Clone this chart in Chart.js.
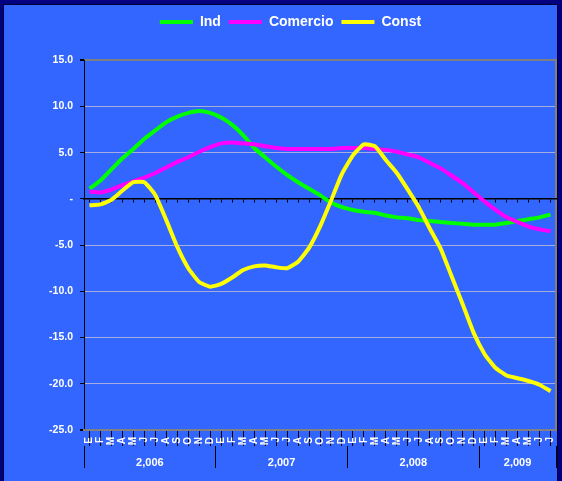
<!DOCTYPE html>
<html>
<head>
<meta charset="utf-8">
<script src="https://cdn.jsdelivr.net/npm/chart.js@4.4.0/dist/chart.umd.min.js"></script>
<style>
  body { margin: 0; background: #000080; }
  #wrap { width: 562px; height: 481px; position: relative; }
</style>
</head>
<body>
<div id="wrap"><canvas id="chart"></canvas></div>
<script>
const monthLetters = ['E', 'F', 'M', 'A', 'M', 'J', 'J', 'A', 'S', 'O', 'N', 'D'];
const years = ['2,006', '2,007', '2,008', '2,009'];
const monthsPerYear = [12, 12, 12, 7];

const ind = [1.1, 2.0, 3.2, 4.4, 5.4, 6.5, 7.4, 8.3, 8.9, 9.3, 9.5, 9.3,
             8.8, 8.0, 6.9, 5.5, 4.5, 3.5, 2.6, 1.8, 1.1, 0.4, -0.4, -0.9,
             -1.2, -1.4, -1.5, -1.8, -2.0, -2.1, -2.3, -2.4, -2.5, -2.6, -2.7, -2.8,
             -2.8, -2.8, -2.6, -2.4, -2.2, -2.0, -1.7];
const comercio = [0.8, 0.7, 1.0, 1.5, 1.9, 2.3, 2.8, 3.4, 4.0, 4.5, 5.1, 5.6,
                  6.0, 6.1, 6.0, 5.9, 5.7, 5.5, 5.4, 5.4, 5.4, 5.4, 5.4, 5.5,
                  5.5, 5.5, 5.4, 5.3, 5.1, 4.8, 4.5, 3.9, 3.3, 2.5, 1.7, 0.7,
                  -0.3, -1.2, -2.0, -2.5, -3.0, -3.3, -3.5];
const constr = [-0.7, -0.6, -0.1, 0.9, 1.8, 1.8, 0.4, -2.3, -5.2, -7.5, -9.0, -9.5,
                -9.2, -8.5, -7.7, -7.3, -7.2, -7.4, -7.5, -6.8, -5.3, -3.0, -0.2, 2.7,
                4.7, 5.9, 5.7, 4.2, 2.8, 1.0, -0.9, -3.2, -5.4, -8.4, -11.4, -14.5,
                -16.8, -18.3, -19.1, -19.4, -19.7, -20.1, -20.8];

const yMin = -25, yMax = 15, yStep = 5;

// month labels for every year
const labels = [];
monthsPerYear.forEach(n => labels.push(...monthLetters.slice(0, n)));

// year boundaries and centres on a 0..N linear scale
const yearBounds = [0];
monthsPerYear.forEach(n => yearBounds.push(yearBounds[yearBounds.length - 1] + n));
const yearMid = years.map((y, i) => (yearBounds[i] + yearBounds[i + 1]) / 2);
const totalMonths = yearBounds[yearBounds.length - 1];

const font = 'Arial, "Liberation Sans", sans-serif';

const bgPlugin = {
    id: 'bg',
    beforeDraw(chart) {
        const { ctx, width, height } = chart;
        ctx.save();
        ctx.fillStyle = '#000080';
        ctx.fillRect(0, 0, width, height);
        ctx.fillStyle = '#3366FF';
        ctx.fillRect(4, 5, width - 9, height - 5);
        ctx.strokeStyle = '#000030';
        ctx.lineWidth = 1;
        ctx.strokeRect(3.5, 4.5, width - 8, height - 4);
        ctx.restore();
    }
};

function line(label, data, color) {
    return {
        label: label,
        data: data,
        borderColor: color,
        backgroundColor: color,
        borderWidth: 4,
        pointRadius: 0,
        tension: 0.15,
        xAxisID: 'x',
        yAxisID: 'y'
    };
}

const ctx = document.getElementById('chart').getContext('2d');
new Chart(ctx, {
    type: 'line',
    data: {
        labels: labels,
        // drawn last-to-first so Const ends up on top; legend is reversed
        datasets: [
            line('Const', constr, '#FFFF00'),
            line('Comercio', comercio, '#FF00FF'),
            line('Ind', ind, '#00FF00')
        ]
    },
    options: {
        responsive: true,
        maintainAspectRatio: false,
        animation: false,
        layout: { padding: { top: 7, left: 25, right: 6, bottom: 0 } },
        plugins: {
            tooltip: { enabled: false },
            legend: {
                position: 'top',
                reverse: true,
                labels: {
                    usePointStyle: true,
                    pointStyle: 'line',
                    pointStyleWidth: 33,
                    color: '#FFFFFF',
                    padding: 8,
                    font: { family: font, size: 14, weight: 'bold' }
                }
            },
            // empty title used as a spacer under the legend
            title: {
                display: true,
                text: ' ',
                weight: 500,
                font: { size: 1 },
                padding: { top: 0, bottom: 20 }
            }
        },
        scales: {
            y: {
                min: yMin,
                max: yMax,
                afterFit: s => { s.width = 59; },
                ticks: {
                    stepSize: yStep,
                    color: '#FFFFFF',
                    padding: 7,
                    font: { family: font, size: 10.5, weight: 'bold' },
                    callback: v => v === 0 ? '-' : v.toFixed(1)
                },
                grid: {
                    color: c => (c.tick.value === yMin || c.tick.value === yMax) ? '#808080'
                        : (c.tick.value === 0 ? '#000000' : '#A4ACE0'),
                    lineWidth: c => (c.tick.value === yMin || c.tick.value === yMax) ? 2 : 1,
                    tickColor: '#000000',
                    tickLength: 4
                },
                border: { color: '#000000', width: 1 }
            },
            y2: {
                type: 'linear',
                position: 'right',
                min: yMin,
                max: yMax,
                afterFit: s => { s.width = 0; },
                ticks: { display: false },
                grid: { drawOnChartArea: false, drawTicks: false },
                border: { color: '#808080', width: 2 }
            },
            x: {
                type: 'category',
                position: 'bottom',
                offset: true,
                weight: 0,
                afterFit: s => { s.height = 16; },
                ticks: {
                    color: '#FFFFFF',
                    autoSkip: false,
                    minRotation: 90,
                    maxRotation: 90,
                    padding: -9,
                    font: { family: font, size: 10, weight: 'bold' }
                },
                grid: {
                    drawOnChartArea: false,
                    tickLength: 16,
                    tickColor: '#000000',
                    lineWidth: 1
                },
                border: { color: '#808080', width: 2 }
            },
            x0: {
                type: 'category',
                position: { y: 0 },
                offset: true,
                ticks: { display: false },
                grid: {
                    drawOnChartArea: false,
                    tickLength: 3,
                    tickColor: '#000000',
                    lineWidth: 1
                },
                border: { color: '#000000', width: 1.5 }
            },
            x2: {
                type: 'linear',
                position: 'bottom',
                min: 0,
                max: totalMonths,
                weight: 1,
                afterFit: s => { s.height = 35; },
                afterBuildTicks: s => {
                    s.ticks = yearBounds.concat(yearMid).sort((a, b) => a - b).map(v => ({ value: v }));
                },
                ticks: {
                    autoSkip: false,
                    maxRotation: 0,
                    minRotation: 0,
                    color: '#FFFFFF',
                    padding: -12,
                    font: { family: font, size: 11, weight: 'bold' },
                    callback: v => {
                        const i = yearMid.indexOf(v);
                        return i >= 0 ? years[i] : '';
                    }
                },
                grid: {
                    drawOnChartArea: false,
                    tickLength: 22,
                    lineWidth: 1,
                    tickColor: c => (c.tick && yearBounds.includes(c.tick.value)) ? '#000000' : 'rgba(0,0,0,0)'
                },
                border: { display: false }
            }
        }
    },
    plugins: [bgPlugin]
});
</script>
</body>
</html>
